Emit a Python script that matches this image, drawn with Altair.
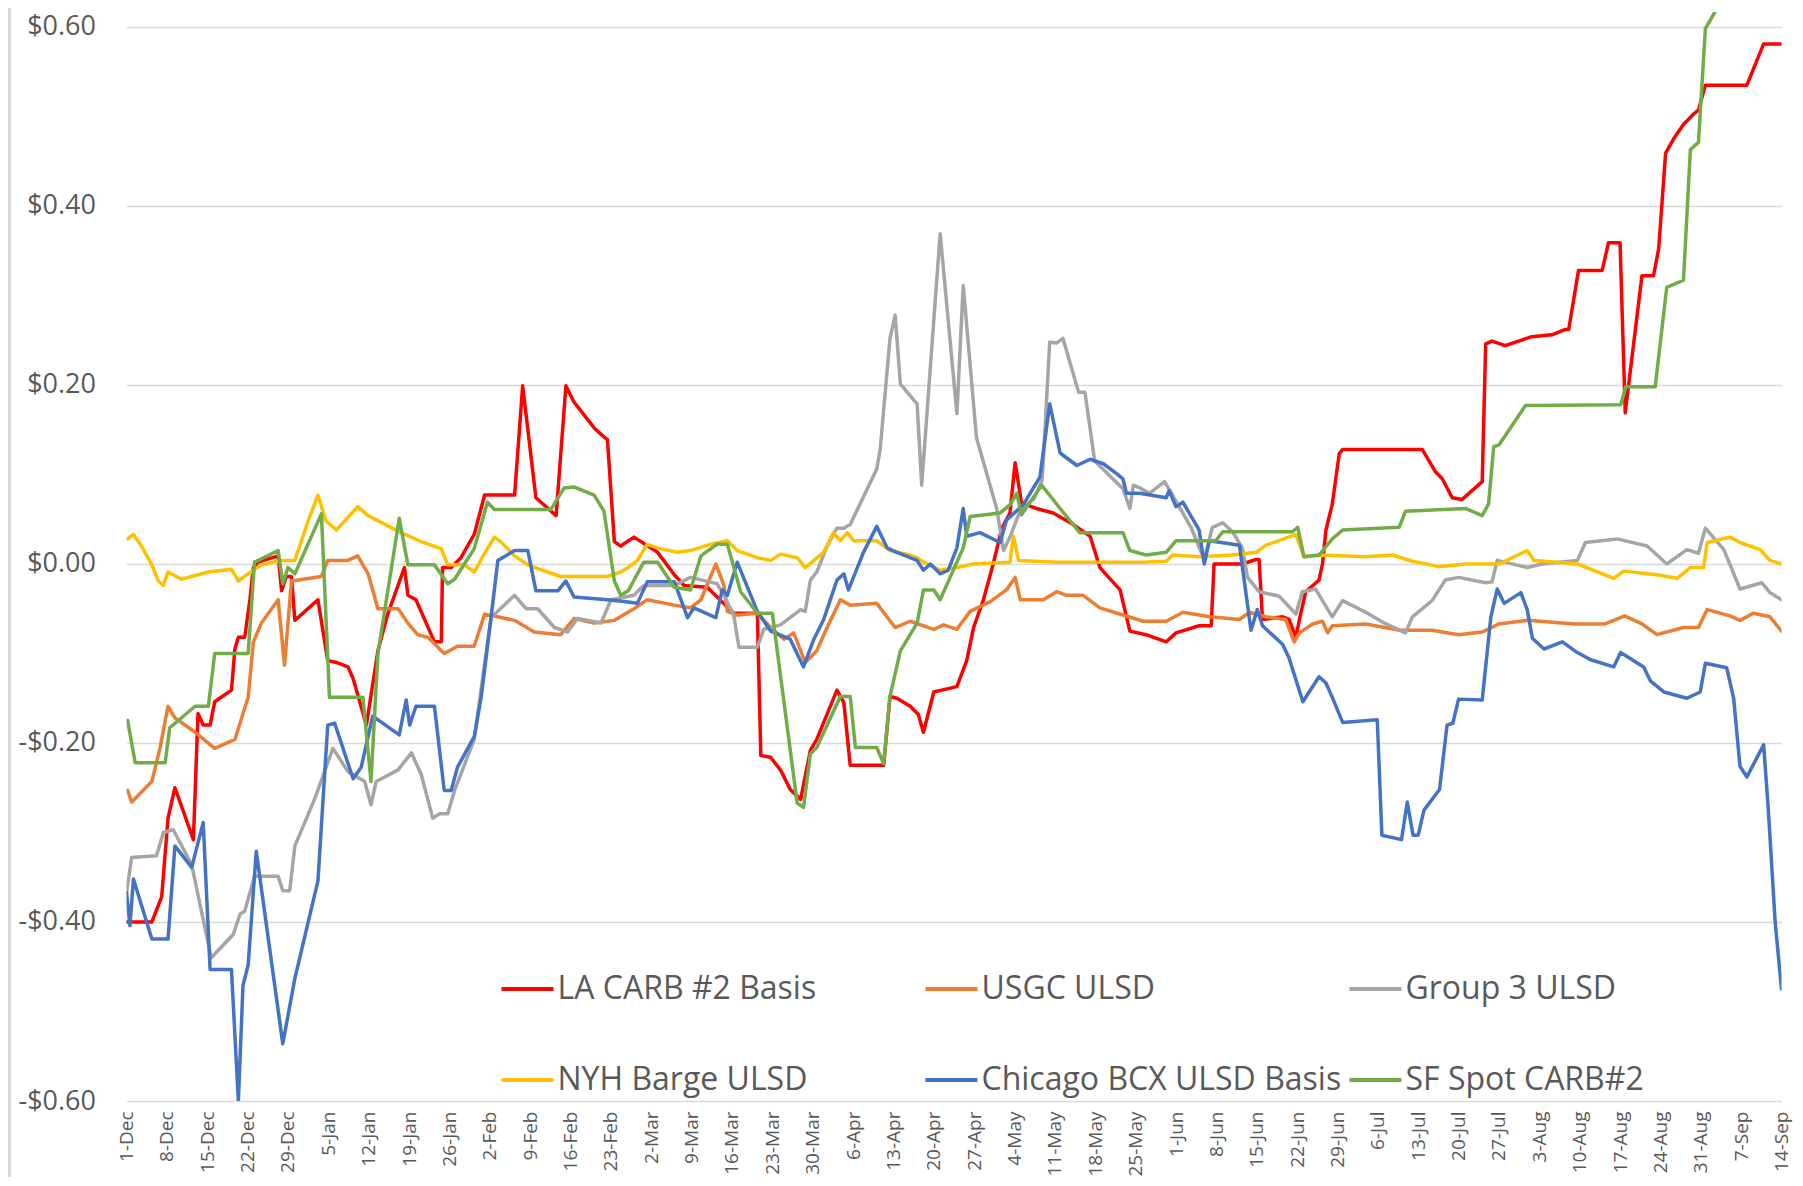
import altair as alt
import pandas as pd

START = "2021-12-01"

series_names = ["LA CARB #2 Basis", "USGC ULSD", "Group 3 ULSD",
                "NYH Barge ULSD", "Chicago BCX ULSD Basis", "SF Spot CARB#2"]
series_colors = ["#FF0000", "#ED7D31", "#A5A5A5", "#FFC000", "#4472C4", "#70AD47"]

tick_dates = ["2021-12-01", "2021-12-08", "2021-12-15", "2021-12-22", "2021-12-29",
              "2022-01-05", "2022-01-12", "2022-01-19", "2022-01-26", "2022-02-02",
              "2022-02-09", "2022-02-16", "2022-02-23", "2022-03-02", "2022-03-09",
              "2022-03-16", "2022-03-23", "2022-03-30", "2022-04-06", "2022-04-13",
              "2022-04-20", "2022-04-27", "2022-05-04", "2022-05-11", "2022-05-18",
              "2022-05-25", "2022-06-01", "2022-06-08", "2022-06-15", "2022-06-22",
              "2022-06-29", "2022-07-06", "2022-07-13", "2022-07-20", "2022-07-27",
              "2022-08-03", "2022-08-10", "2022-08-17", "2022-08-24", "2022-08-31",
              "2022-09-07", "2022-09-14"]
y_ticks = [-0.6, -0.4, -0.2, 0.0, 0.2, 0.4, 0.6]

# (days since 1-Dec, $/gal)
la_carb = [(0, -0.40), (4.4, -0.40), (6.1, -0.372), (7.2, -0.284), (8.4, -0.250), (11.6, -0.308),
           (12.4, -0.167), (13.3, -0.180), (14.5, -0.180), (15.3, -0.154), (18.2, -0.141), (18.8, -0.095),
           (19.4, -0.082), (20.5, -0.082), (21.4, -0.040), (22.0, -0.004), (22.8, 0.002), (26.3, 0.009),
           (26.9, -0.030), (27.7, -0.014), (28.6, -0.014), (29.2, -0.063), (33.2, -0.040), (34.9, -0.108),
           (36.4, -0.110), (38.4, -0.115), (39.3, -0.128), (41.6, -0.180), (43.6, -0.097), (45.3, -0.056),
           (48.2, -0.004), (48.8, -0.035), (50.2, -0.040), (53.4, -0.087), (54.6, -0.087), (54.8, -0.004),
           (56.3, -0.004), (58.0, 0.007), (60.3, 0.033), (62.1, 0.077), (67.3, 0.077), (68.7, 0.199),
           (71.0, 0.074), (74.5, 0.054), (76.2, 0.199), (77.6, 0.181), (81.1, 0.152), (82.8, 0.142),
           (83.4, 0.139), (84.6, 0.025), (85.7, 0.020), (88.0, 0.030), (92.1, 0.013), (95.0, -0.012),
           (96.7, -0.024), (100.7, -0.026), (105.3, -0.055), (109.4, -0.055), (110.0, -0.214), (111.7, -0.216),
           (113.4, -0.230), (115.1, -0.252), (116.9, -0.263), (118.6, -0.208), (119.7, -0.196), (123.2, -0.141),
           (124.4, -0.155), (125.5, -0.225), (131.3, -0.225), (132.4, -0.148), (133.6, -0.150), (135.9, -0.159),
           (137.3, -0.168), (138.2, -0.188), (140.0, -0.143), (144.0, -0.137), (145.7, -0.108), (146.9, -0.071),
           (148.6, -0.040), (150.3, 0.000), (151.8, 0.040), (153.2, 0.057), (154.1, 0.113), (155.2, 0.068),
           (157.8, 0.062), (160.7, 0.057), (164.2, 0.044), (167.1, 0.031), (168.8, -0.004), (172.3, -0.029),
           (174.0, -0.075), (176.8, -0.079), (180.3, -0.087), (182.0, -0.077), (186.0, -0.069), (188.1, -0.069),
           (188.6, 0.000), (193.5, 0.000), (195.9, 0.005), (196.4, 0.005), (197.0, -0.062), (200.5, -0.059),
           (201.6, -0.062), (202.8, -0.082), (203.4, -0.062), (204.5, -0.031), (206.8, -0.018), (207.4, 0.000),
           (208.0, 0.038), (209.1, 0.067), (210.3, 0.123), (210.9, 0.128), (224.7, 0.128), (227.0, 0.103),
           (228.2, 0.095), (229.9, 0.074), (231.6, 0.072), (235.1, 0.092), (235.7, 0.246), (236.8, 0.249),
           (239.1, 0.244), (241.4, 0.249), (243.7, 0.254), (247.2, 0.256), (249.5, 0.262), (250.1, 0.262),
           (251.8, 0.328), (255.9, 0.328), (257.0, 0.359), (259.0, 0.359), (259.9, 0.169), (262.8, 0.322),
           (264.8, 0.322), (265.7, 0.352), (266.9, 0.459), (268.3, 0.475), (270.0, 0.491), (271.8, 0.503),
           (272.6, 0.507), (273.8, 0.535), (281.0, 0.535), (283.9, 0.581), (287.0, 0.581)]

usgc = [(0.2, -0.253), (0.9, -0.266), (4.4, -0.243), (5.8, -0.206), (7.2, -0.159), (8.4, -0.172),
        (11.9, -0.188), (15.3, -0.206), (18.8, -0.196), (21.1, -0.149), (22.0, -0.087), (23.4, -0.066),
        (26.3, -0.040), (27.4, -0.113), (28.6, -0.019), (33.8, -0.014), (34.9, 0.004), (38.4, 0.004),
        (40.1, 0.009), (41.9, -0.011), (43.6, -0.050), (47.1, -0.050), (48.8, -0.066), (50.5, -0.079),
        (52.3, -0.082), (55.1, -0.100), (57.4, -0.092), (60.3, -0.092), (62.1, -0.056), (67.3, -0.063),
        (70.7, -0.076), (75.3, -0.079), (77.6, -0.061), (81.1, -0.066), (84.6, -0.063), (88.0, -0.050),
        (90.3, -0.040), (95.0, -0.046), (97.8, -0.049), (99.6, -0.040), (102.2, 0.000), (103.6, -0.024),
        (104.2, -0.053), (105.9, -0.057), (109.4, -0.055), (111.7, -0.071), (114.0, -0.084), (115.7, -0.077),
        (117.7, -0.110), (119.7, -0.097), (121.5, -0.071), (123.8, -0.040), (125.5, -0.046), (130.1, -0.044),
        (133.3, -0.071), (135.9, -0.064), (140.0, -0.073), (141.7, -0.068), (144.0, -0.073), (146.3, -0.053),
        (149.8, -0.042), (152.6, -0.029), (154.1, -0.015), (155.0, -0.040), (159.0, -0.040), (161.3, -0.031),
        (163.0, -0.035), (165.9, -0.035), (168.8, -0.049), (172.8, -0.057), (176.3, -0.064), (180.3, -0.064),
        (183.2, -0.054), (187.8, -0.059), (193.0, -0.062), (194.7, -0.054), (197.6, -0.059), (201.0, -0.062),
        (202.5, -0.087), (203.4, -0.077), (205.7, -0.067), (207.4, -0.064), (208.3, -0.077), (209.1, -0.069),
        (214.9, -0.067), (220.7, -0.074), (226.4, -0.074), (231.0, -0.079), (235.1, -0.076), (238.0, -0.067),
        (243.0, -0.063), (251.0, -0.067), (256.4, -0.067), (259.8, -0.058), (262.8, -0.067), (265.4, -0.079),
        (270.0, -0.071), (272.6, -0.071), (274.1, -0.051), (278.1, -0.058), (279.8, -0.063), (282.1, -0.055),
        (285.0, -0.059), (287.0, -0.075)]

group3 = [(0, -0.367), (0.9, -0.328), (5.2, -0.326), (6.4, -0.300), (8.1, -0.297), (11.3, -0.336),
          (14.7, -0.440), (18.5, -0.414), (19.7, -0.391), (20.5, -0.388), (22.2, -0.349), (26.3, -0.349),
          (27.1, -0.365), (28.3, -0.365), (29.2, -0.315), (32.6, -0.263), (35.8, -0.206), (38.4, -0.232),
          (41.3, -0.243), (42.4, -0.269), (43.3, -0.243), (47.1, -0.230), (49.4, -0.211), (51.1, -0.235),
          (53.1, -0.284), (54.3, -0.279), (55.7, -0.279), (56.9, -0.253), (60.3, -0.196), (61.5, -0.140),
          (63.2, -0.060), (67.3, -0.035), (69.3, -0.050), (71.3, -0.050), (74.2, -0.071), (76.5, -0.076),
          (78.2, -0.061), (82.3, -0.066), (84.0, -0.040), (88.0, -0.035), (89.7, -0.024), (95.0, -0.024),
          (97.8, -0.015), (102.4, -0.022), (103.6, -0.035), (105.3, -0.057), (106.2, -0.093), (109.4, -0.093),
          (110.5, -0.073), (113.4, -0.068), (116.9, -0.051), (117.7, -0.053), (118.6, -0.018), (119.7, -0.009),
          (121.5, 0.020), (123.2, 0.040), (124.4, 0.040), (125.5, 0.044), (130.1, 0.106), (130.7, 0.128),
          (132.4, 0.252), (133.3, 0.278), (134.2, 0.201), (137.1, 0.179), (137.9, 0.088), (141.1, 0.369),
          (144.0, 0.168), (145.1, 0.311), (147.4, 0.141), (150.9, 0.062), (152.1, 0.015), (153.2, 0.030),
          (155.0, 0.060), (157.4, 0.073), (158.8, 0.094), (160.1, 0.248), (161.3, 0.247), (162.4, 0.252),
          (165.1, 0.192), (166.2, 0.192), (167.9, 0.115), (172.8, 0.084), (174.0, 0.062), (174.6, 0.088),
          (175.7, 0.085), (177.4, 0.079), (180.0, 0.092), (181.4, 0.077), (184.6, 0.041), (186.9, 0.005),
          (188.3, 0.041), (190.1, 0.046), (191.8, 0.036), (193.5, 0.018), (194.4, -0.015), (196.4, -0.031),
          (199.9, -0.036), (202.8, -0.056), (203.9, -0.031), (206.2, -0.028), (209.1, -0.059), (210.9, -0.041),
          (214.9, -0.054), (218.4, -0.067), (221.8, -0.077), (223.0, -0.059), (226.4, -0.041), (228.7, -0.018),
          (231.0, -0.015), (235.7, -0.021), (236.8, -0.020), (237.7, 0.004), (242.9, -0.004), (245.5, 0.000),
          (251.6, 0.004), (253.0, 0.024), (258.5, 0.028), (263.7, 0.020), (267.1, 0.000), (270.6, 0.016),
          (272.6, 0.012), (273.8, 0.040), (277.0, 0.016), (279.8, -0.028), (283.6, -0.021), (285.0, -0.032),
          (287.0, -0.040)]

nyh = [(0.2, 0.028), (1.2, 0.033), (2.6, 0.020), (4.4, -0.001), (5.5, -0.019), (6.4, -0.024), (7.2, -0.009),
       (9.5, -0.017), (14.2, -0.009), (18.2, -0.006), (19.4, -0.019), (21.1, -0.011), (23.4, -0.001),
       (26.9, 0.004), (29.2, 0.004), (31.5, 0.048), (33.2, 0.077), (34.6, 0.048), (36.4, 0.038), (40.1, 0.064),
       (41.9, 0.054), (47.6, 0.035), (51.1, 0.025), (54.6, 0.017), (55.7, -0.001), (58.6, -0.001),
       (60.3, -0.009), (62.1, 0.012), (63.8, 0.030), (64.9, 0.025), (67.3, 0.009), (69.6, -0.001),
       (73.0, -0.009), (75.3, -0.014), (83.4, -0.014), (85.7, -0.009), (87.0, -0.004), (88.6, 0.004),
       (90.3, 0.022), (92.1, 0.018), (95.5, 0.013), (97.8, 0.015), (101.3, 0.022), (104.2, 0.026),
       (105.9, 0.015), (109.4, 0.007), (111.7, 0.004), (113.4, 0.011), (116.3, 0.007), (117.7, -0.004),
       (120.9, 0.013), (122.6, 0.035), (123.8, 0.026), (125.0, 0.035), (126.1, 0.026), (130.1, 0.026),
       (132.4, 0.015), (135.3, 0.011), (137.1, 0.007), (138.2, 0.002), (141.1, -0.007), (144.0, -0.004),
       (146.9, 0.000), (153.2, 0.002), (153.8, 0.031), (154.7, 0.004), (161.3, 0.002), (176.3, 0.002),
       (180.3, 0.003), (181.4, 0.010), (186.0, 0.008), (191.8, 0.010), (195.9, 0.013), (197.6, 0.021),
       (202.8, 0.033), (204.2, 0.008), (207.4, 0.010), (214.9, 0.008), (219.5, 0.010), (223.0, 0.003),
       (227.6, -0.003), (232.2, 0.000), (238.0, 0.000), (242.9, 0.015), (244.1, 0.004), (251.6, 0.000),
       (257.9, -0.016), (259.6, -0.008), (265.4, -0.012), (268.9, -0.016), (271.2, -0.004), (273.5, -0.004),
       (274.1, 0.024), (278.1, 0.030), (279.8, 0.024), (283.3, 0.016), (285.0, 0.004), (287.0, 0.000)]

chicago = [(0, -0.367), (0.6, -0.404), (1.2, -0.352), (4.4, -0.419), (7.2, -0.419), (8.4, -0.315),
           (11.3, -0.339), (13.3, -0.289), (14.5, -0.453), (18.2, -0.453), (19.4, -0.600), (20.2, -0.471),
           (21.1, -0.448), (22.5, -0.321), (27.1, -0.536), (29.2, -0.463), (33.2, -0.354), (34.9, -0.180),
           (36.1, -0.178), (39.3, -0.240), (40.7, -0.227), (42.7, -0.170), (47.3, -0.191), (48.5, -0.152),
           (49.1, -0.180), (50.2, -0.159), (53.4, -0.159), (55.1, -0.253), (56.3, -0.253), (57.4, -0.227),
           (60.3, -0.193), (61.5, -0.149), (63.2, -0.061), (64.4, 0.004), (67.3, 0.015), (69.6, 0.015),
           (71.0, -0.030), (74.8, -0.030), (76.2, -0.019), (77.6, -0.037), (83.4, -0.040), (86.3, -0.042),
           (88.6, -0.044), (90.3, -0.020), (95.0, -0.020), (97.3, -0.060), (98.4, -0.049), (102.2, -0.060),
           (103.3, -0.029), (104.2, -0.035), (105.9, 0.002), (109.4, -0.053), (111.7, -0.075), (115.1, -0.084),
           (117.4, -0.115), (119.2, -0.084), (120.9, -0.062), (123.2, -0.018), (124.4, -0.011), (125.2, -0.029),
           (127.8, 0.013), (130.1, 0.042), (131.9, 0.018), (133.6, 0.013), (137.1, 0.004), (138.2, -0.007),
           (139.4, 0.000), (141.1, -0.011), (142.5, -0.007), (144.0, 0.018), (145.1, 0.062), (145.7, 0.031),
           (148.0, 0.035), (151.5, 0.024), (152.6, 0.049), (155.5, 0.066), (158.4, 0.097), (160.1, 0.179),
           (161.9, 0.124), (164.8, 0.110), (167.1, 0.117), (169.4, 0.112), (171.7, 0.101), (172.8, 0.095),
           (173.4, 0.079), (175.7, 0.079), (180.3, 0.074), (180.8, 0.082), (182.0, 0.064), (183.2, 0.069),
           (186.0, 0.038), (186.9, 0.000), (187.8, 0.026), (193.0, 0.021), (195.0, -0.074), (196.1, -0.051),
           (197.0, -0.069), (200.5, -0.090), (201.6, -0.105), (204.0, -0.154), (206.8, -0.126), (208.0, -0.133),
           (209.1, -0.149), (210.9, -0.177), (216.9, -0.174), (217.7, -0.303), (221.1, -0.308), (222.1, -0.266),
           (223.1, -0.303), (224.0, -0.303), (225.0, -0.275), (227.7, -0.252), (229.0, -0.180), (230.0, -0.178),
           (231.0, -0.151), (235.1, -0.152), (236.6, -0.059), (237.7, -0.028), (238.9, -0.044), (241.8, -0.032),
           (242.9, -0.051), (243.8, -0.083), (245.8, -0.095), (249.0, -0.087), (251.6, -0.099), (253.9, -0.107),
           (257.9, -0.115), (259.1, -0.099), (263.1, -0.115), (264.3, -0.131), (266.6, -0.143), (270.6, -0.150),
           (272.9, -0.143), (273.8, -0.111), (277.5, -0.116), (278.7, -0.150), (279.8, -0.226), (281.0, -0.238),
           (283.9, -0.202), (284.7, -0.273), (285.9, -0.400), (287.0, -0.475)]

sf_spot = [(0.2, -0.175), (1.5, -0.222), (6.7, -0.222), (7.5, -0.183), (11.9, -0.159), (14.2, -0.159),
           (15.3, -0.100), (21.1, -0.100), (22.2, 0.002), (26.3, 0.015), (27.1, -0.022), (28.0, -0.004),
           (29.2, -0.011), (33.8, 0.056), (35.2, -0.149), (41.0, -0.149), (42.4, -0.243), (43.6, -0.100),
           (47.3, 0.051), (48.8, -0.001), (53.4, -0.001), (55.7, -0.022), (56.9, -0.017), (60.3, 0.017),
           (62.6, 0.069), (63.8, 0.061), (73.6, 0.061), (75.9, 0.085), (77.6, 0.086), (81.1, 0.077),
           (82.8, 0.059), (84.6, -0.019), (85.7, -0.035), (87.0, -0.030), (89.7, 0.002), (92.1, 0.002),
           (95.0, -0.026), (97.8, -0.029), (99.6, 0.009), (102.4, 0.022), (104.2, 0.022), (106.5, -0.031),
           (109.4, -0.055), (112.0, -0.055), (116.3, -0.267), (117.4, -0.272), (118.6, -0.212), (119.7, -0.205),
           (123.8, -0.148), (125.5, -0.148), (126.4, -0.205), (130.1, -0.205), (131.3, -0.223), (132.4, -0.148),
           (134.2, -0.097), (137.1, -0.066), (138.2, -0.029), (140.0, -0.029), (141.1, -0.040), (145.1, 0.018),
           (146.3, 0.053), (151.5, 0.057), (153.2, 0.066), (154.4, 0.079), (155.2, 0.055), (158.7, 0.088),
           (161.9, 0.062), (165.3, 0.035), (172.8, 0.035), (174.0, 0.015), (176.8, 0.010), (180.3, 0.013),
           (182.0, 0.026), (188.9, 0.026), (190.1, 0.036), (202.2, 0.036), (203.1, 0.041), (204.2, 0.008),
           (206.8, 0.010), (209.1, 0.028), (210.9, 0.038), (220.7, 0.041), (221.8, 0.059), (232.2, 0.062),
           (235.1, 0.054), (236.2, 0.067), (237.1, 0.131), (238.0, 0.133), (239.7, 0.149), (242.6, 0.177),
           (259.1, 0.178), (260.0, 0.198), (265.1, 0.198), (267.1, 0.309), (270.0, 0.317), (271.2, 0.463),
           (272.6, 0.471), (273.8, 0.598), (277.0, 0.634), (279.0, 0.660)]

all_series = [la_carb, usgc, group3, nyh, chicago, sf_spot]

start = pd.Timestamp(START)
rows = []
for name, pts in zip(series_names, all_series):
    for d, v in pts:
        ts = start + pd.Timedelta(days=d)
        rows.append({"series": name, "date": ts.strftime("%Y-%m-%dT%H:%M:%S"), "value": v})
df = pd.DataFrame(rows)


def to_dt(s):
    t = pd.Timestamp(s)
    return alt.DateTime(year=t.year, month=t.month, date=t.day)


FONT = "Open Sans"
GRAY_TXT = "#595959"

x_enc = alt.X(
    "date:T",
    scale=alt.Scale(domain=[to_dt(tick_dates[0]), to_dt(tick_dates[-1])]),
    axis=alt.Axis(values=[to_dt(s) for s in tick_dates], format="%-d-%b", labelAngle=270,
                  title=None, domain=False, ticks=False, grid=False, labelPadding=10,
                  labelFont=FONT, labelFontSize=19, labelColor=GRAY_TXT,
                  labelOverlap=False, labelFlush=False),
)
y_enc = alt.Y(
    "value:Q",
    scale=alt.Scale(domain=[-0.6, 0.6167], nice=False, zero=False),
    axis=alt.Axis(values=y_ticks, title=None, domain=False, ticks=False, labelPadding=31,
                  labelExpr="(datum.value < 0 ? '-$' : '$') + format(abs(datum.value), '.2f')",
                  labelFont=FONT, labelFontSize=27, labelColor=GRAY_TXT,
                  gridColor="#d9d9d9", gridWidth=1.5),
)
color_enc = alt.Color(
    "series:N",
    scale=alt.Scale(domain=series_names, range=series_colors),
    legend=alt.Legend(title=None, orient="none", legendX=373, legendY=949,
                      direction="horizontal", columns=3, symbolType="stroke",
                      symbolStrokeWidth=4, symbolSize=2700, symbolOffset=0, labelOffset=2,
                      labelFont=FONT, labelFontSize=32, labelColor=GRAY_TXT, labelLimit=0,
                      gridAlign="all", columnPadding=0, rowPadding=47, padding=0),
)

base = alt.Chart(df)
layers = []
for name in series_names:
    layers.append(
        base.transform_filter(alt.datum.series == name)
        .mark_line(clip=True, strokeWidth=3.5, strokeJoin="round", strokeCap="round")
        .encode(x=x_enc, y=y_enc, color=color_enc)
    )

frame = alt.Chart(df).mark_rule(color="#d9d9d9", strokeWidth=2.5, clip=False).encode(
    x=alt.value(-117), y=alt.value(-4), y2=alt.value(1165)
)
layers.append(frame)

chart = (
    alt.layer(*layers)
    .properties(width=1655, height=1089,
                padding={"left": 118.5, "top": 4, "right": 11.5, "bottom": 76},
                autosize=alt.AutoSizeParams(type="none"))
    .configure_view(stroke=None)
)

chart.save("out.html", embed_options={"renderer": "svg", "actions": False})
